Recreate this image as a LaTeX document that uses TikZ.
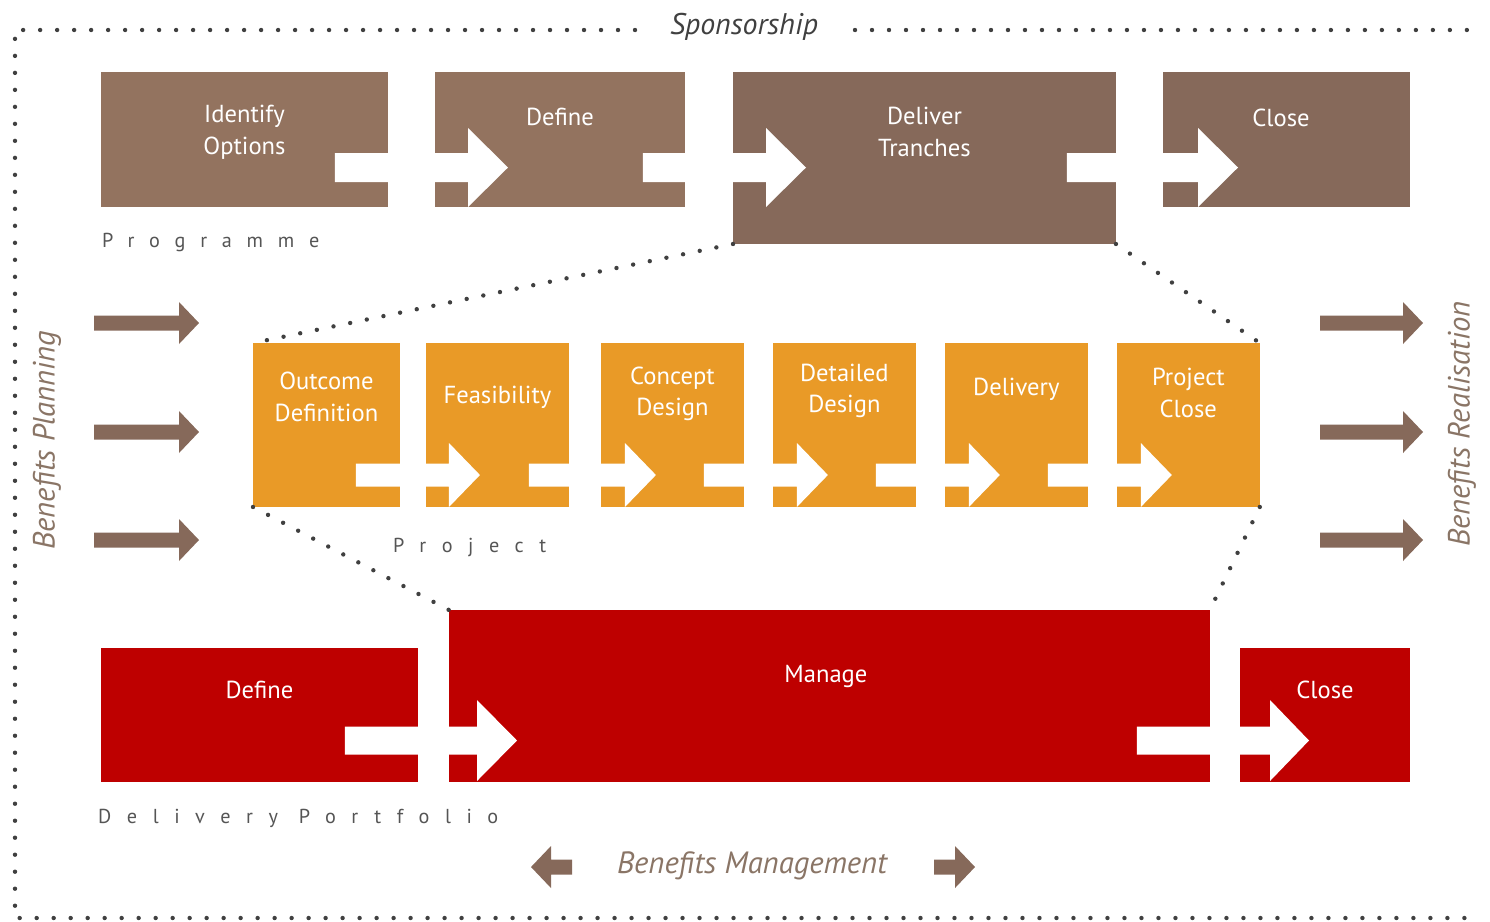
\documentclass[tikz,border=0pt]{standalone}
\usepackage{fontspec}
\setmainfont{PT Sans}
\usetikzlibrary{positioning, calc}
\definecolor{progLight}{HTML}{93735F}
\definecolor{progDark}{HTML}{86695A}
\definecolor{projOrange}{HTML}{E99A27}
\definecolor{portRed}{HTML}{BE0000}
\definecolor{benBrown}{HTML}{86695A}
\definecolor{dotGray}{HTML}{404040}
\definecolor{capGray}{HTML}{555555}
\definecolor{benText}{HTML}{8A7566}

% white hand-over arrow: from, to, y, notch, head inset, head length, shaft half, head half
\newcommand{\gaparrow}[8]{%
  \fill[white] ($(#1.east|-0,#3)+(-#4,-#7)$) -- ($(#2.west|-0,#3)+(#5,-#7)$)
    -- ($(#2.west|-0,#3)+(#5,-#8)$) -- ($(#2.west|-0,#3)+(#5+#6,0)$)
    -- ($(#2.west|-0,#3)+(#5,#8)$) -- ($(#2.west|-0,#3)+(#5,#7)$)
    -- ($(#1.east|-0,#3)+(-#4,#7)$) -- cycle;}

\begin{document}
\begin{tikzpicture}[x=0.02cm, y=-0.02cm,
    stage/.style={rectangle, inner sep=0pt, outer sep=0pt, anchor=north west},
    boxlbl/.style={align=center, text=white, font=\fontsize{14}{18}\selectfont},
    dotrule/.style={draw=dotGray, line width=2.5pt, line cap=round,
                    dash pattern=on 0pt off 0.34cm},
    rowname/.style={anchor=base west, text=capGray, font=\fontsize{11.5}{14}\selectfont},
    benlbl/.style={text=benText, font=\itshape\fontsize{17.5}{20}\selectfont},
    pics/benarrow/.style={code={
      \fill[benBrown] (0,0) -- (-20,-21) -- (-20,-7.5) -- (-#1,-7.5)
        -- (-#1,7.5) -- (-20,7.5) -- (-20,21) -- cycle;}},
  ]
  \useasboundingbox (0,0) rectangle (1490,921);

  % frame
  \node[font=\itshape\fontsize{17}{20}\selectfont, text=black!75] (spons) at (744,27) {Sponsorship};
  \draw[dotrule] (635,30) -- (15,30) -- (15,918) -- (1480,918);
  \draw[dotrule] (855,30) -- (1480,30);

  % programme
  \node[stage, fill=progLight, minimum width=5.74cm, minimum height=2.70cm,
        label={[boxlbl, yshift=0.15cm]center:Identify\\Options}] (idopt) at (101,72) {};
  \node[stage, fill=progLight, minimum width=5.00cm, minimum height=2.70cm,
        label={[boxlbl, yshift=0.45cm]center:Define}] (pgdefine) at (435,72) {};
  \node[stage, fill=progDark, minimum width=7.66cm, minimum height=3.44cm,
        label={[boxlbl, yshift=0.52cm]center:Deliver\\Tranches}] (deliver) at (733,72) {};
  \node[stage, fill=progDark, minimum width=4.94cm, minimum height=2.70cm,
        label={[boxlbl, yshift=0.43cm, xshift=-0.11cm]center:Close}] (pgclose) at (1163,72) {};
  \gaparrow{idopt}{pgdefine}{167.5}{53}{33}{40}{14.5}{39.5}
  \gaparrow{pgdefine}{deliver}{167.5}{42}{33}{40}{14.5}{39.5}
  \gaparrow{deliver}{pgclose}{167.5}{49}{35}{40}{14.5}{39.5}
  \node[rowname, font=\fontsize{11.5}{14}\selectfont\addfontfeatures{LetterSpace=73}]
    (pgname) at (96,247) {Programme};

  % project
  \node[stage, fill=projOrange, minimum width=2.94cm, minimum height=3.28cm,
        label={[boxlbl, yshift=0.56cm]center:Outcome\\Definition}] (outcome) at (253,343) {};
  \node[stage, fill=projOrange, minimum width=2.86cm, minimum height=3.28cm,
        right=0.52cm of outcome,
        label={[boxlbl, yshift=0.56cm]center:Feasibility}] (feas) {};
  \node[stage, fill=projOrange, minimum width=2.86cm, minimum height=3.28cm,
        right=0.64cm of feas,
        label={[boxlbl, yshift=0.62cm]center:Concept\\Design}] (concept) {};
  \node[stage, fill=projOrange, minimum width=2.86cm, minimum height=3.28cm,
        right=0.58cm of concept,
        label={[boxlbl, yshift=0.68cm]center:Detailed\\Design}] (detailed) {};
  \node[stage, fill=projOrange, minimum width=2.86cm, minimum height=3.28cm,
        right=0.58cm of detailed,
        label={[boxlbl, yshift=0.72cm]center:Delivery}] (delivery) {};
  \node[stage, fill=projOrange, minimum width=2.86cm, minimum height=3.28cm,
        right=0.58cm of delivery,
        label={[boxlbl, yshift=0.64cm]center:Project\\Close}] (pjclose) {};
  \gaparrow{outcome}{feas}{475}{44}{23}{31}{11.5}{32}
  \gaparrow{feas}{concept}{475}{40}{24}{31}{11.5}{32}
  \gaparrow{concept}{detailed}{475}{40}{24}{31}{11.5}{32}
  \gaparrow{detailed}{delivery}{475}{40}{24}{31}{11.5}{32}
  \gaparrow{delivery}{pjclose}{475}{40}{24}{31}{11.5}{32}
  \node[rowname, font=\fontsize{11.5}{14}\selectfont\addfontfeatures{LetterSpace=77}]
    (pjname) at (387,552) {Project};

  % delivery portfolio
  \node[stage, fill=portRed, minimum width=6.34cm, minimum height=2.68cm,
        label={[boxlbl, yshift=0.5cm]center:Define}] (pfdefine) at (101,648) {};
  \node[stage, fill=portRed, minimum width=15.22cm, minimum height=3.44cm,
        label={[boxlbl, yshift=0.4cm, xshift=-0.07cm]center:Manage}] (manage) at (449,610) {};
  \node[stage, fill=portRed, minimum width=3.40cm, minimum height=2.68cm,
        label={[boxlbl, yshift=0.5cm]center:Close}] (pfclose) at (1240,648) {};
  \gaparrow{pfdefine}{manage}{740.5}{73}{28}{40}{14}{40.5}
  \gaparrow{manage}{pfclose}{740.5}{73}{30}{39}{14}{40.5}
  \node[rowname, font=\fontsize{11.5}{14}\selectfont\addfontfeatures{LetterSpace=77}]
    (pfname) at (92,823) {Delivery Portfolio};

  % zoom lines
  \draw[dotrule] (deliver.south west) -- (outcome.north west);
  \draw[dotrule] (deliver.south east) -- (pjclose.north east);
  \draw[dotrule] (outcome.south west) -- (manage.north west);
  \draw[dotrule] (pjclose.south east) -- (manage.north east);

  % benefits
  \node[benlbl, rotate=90] (bplan) at (47,440) {Benefits Planning};
  \node[benlbl, rotate=90] (breal) at (1462,424) {Benefits Realisation};
  \foreach \y [count=\i] in {323,432,540} {
    \pic (bin\i) at (199,\y) {benarrow=105};
    \pic (bout\i) at (1423,\y) {benarrow=103};
  }
  \node[benlbl] (bmgmt) at (752,866) {Benefits Management};
  \pic[rotate=180] (bleft) at (531,867) {benarrow=41};
  \pic (bright) at (975,867) {benarrow=41};
\end{tikzpicture}
\end{document}
